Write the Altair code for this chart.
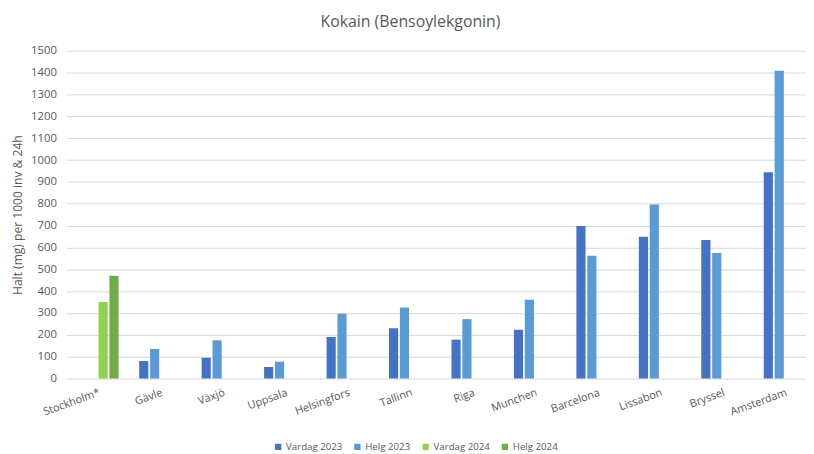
import altair as alt
import pandas as pd

cities = ["Stockholm*", "Gävle", "Växjö", "Uppsala", "Helsingfors", "Tallinn",
          "Riga", "Munchen", "Barcelona", "Lissabon", "Bryssel", "Amsterdam"]
series = ["Vardag 2023", "Helg 2023", "Vardag 2024", "Helg 2024"]
colors = ["#4472C4", "#5B9BD5", "#92D050", "#70AD47"]

vardag_2023 = [None, 80, 95, 53, 190, 230, 178, 223, 698, 649, 634, 944]
helg_2023 = [None, 135, 175, 77, 297, 325, 272, 360, 562, 796, 574, 1409]
vardag_2024 = [350, None, None, None, None, None, None, None, None, None, None, None]
helg_2024 = [470, None, None, None, None, None, None, None, None, None, None, None]

rows = []
for s, vals in zip(series, [vardag_2023, helg_2023, vardag_2024, helg_2024]):
    for c, v in zip(cities, vals):
        if v is not None:
            rows.append({"Stad": c, "Serie": s, "Värde": v})
df = pd.DataFrame(rows)

FONT = "Open Sans"
GRAY = "#595959"

chart = alt.Chart(df).mark_bar().encode(
    x=alt.X("Stad:N", sort=cities,
            scale=alt.Scale(paddingInner=0.33, paddingOuter=0.165,
                            range=[0, 757]),
            axis=alt.Axis(title=None, labelAngle=-20, labelAlign="right",
                          labelBaseline="top", ticks=False, domain=False,
                          labelPadding=8, labelFontSize=11, labelColor=GRAY,
                          labelFont=FONT, labelOffset=0)),
    xOffset=alt.XOffset("Serie:N", sort=series,
                        scale=alt.Scale(domain=series, paddingInner=0.16)),
    y=alt.Y("Värde:Q",
            scale=alt.Scale(domain=[0, 1500], nice=False),
            axis=alt.Axis(title="Halt (mg) per 1000 inv & 24h",
                          values=list(range(0, 1501, 100)), format="d",
                          ticks=False, domain=False, gridColor="#D9D9D9",
                          labelPadding=10, labelFontSize=11.5, labelColor=GRAY,
                          labelFont=FONT, titleFont=FONT, titleFontSize=12.2,
                          titleFontWeight="normal", titleColor=GRAY,
                          titlePadding=6)),
    color=alt.Color("Serie:N",
                    scale=alt.Scale(domain=series, range=colors),
                    legend=alt.Legend(title=None, orient="none",
                                      direction="horizontal",
                                      legendX=209, legendY=395,
                                      symbolType="square", symbolSize=40,
                                      symbolStrokeWidth=0,
                                      labelFont=FONT, labelFontSize=9.8,
                                      labelColor=GRAY, columnPadding=10,
                                      labelOffset=3)),
).properties(
    width=747,
    height=331,
    title=alt.TitleParams("Kokain (Bensoylekgonin)", font=FONT, fontSize=16,
                          fontWeight="normal", color=GRAY, anchor="middle",
                          dx=-26, offset=15),
    autosize=alt.AutoSizeParams(type="none"),
    padding={"left": 59, "top": 41, "right": 0, "bottom": 74},
).configure_view(stroke=None)

chart.save("out.html", embed_options={"renderer": "svg", "actions": False})
